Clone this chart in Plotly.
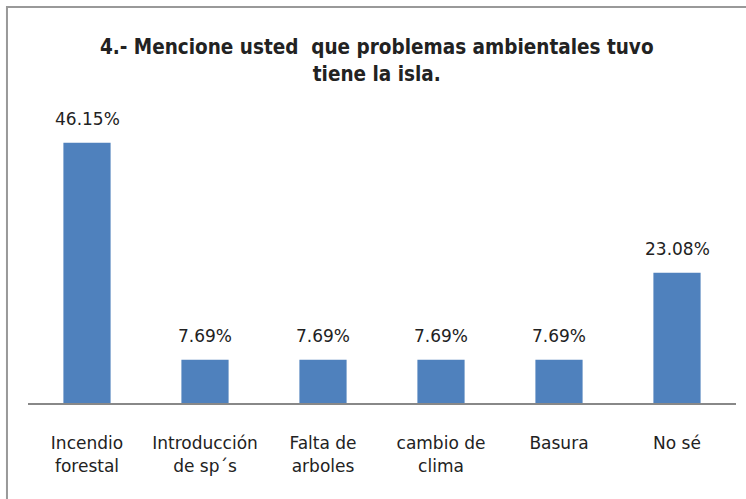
import plotly.graph_objects as go

categories = ["Incendio<br>forestal", "Introducción<br>de sp´s", "Falta de<br>arboles",
              "cambio de<br>clima", "Basura", "No sé"]
values = [46.15, 7.69, 7.69, 7.69, 7.69, 23.08]
labels = ["46.15%", "7.69%", "7.69%", "7.69%", "7.69%", "23.08%"]

fig = go.Figure()

fig.add_trace(go.Bar(
    x=categories,
    y=values,
    marker=dict(color="#4F81BD", line=dict(width=0)),
    width=0.4,
    hoverinfo="skip",
))

# value labels above each bar
for cat, val, lab in zip(categories, values, labels):
    fig.add_annotation(
        x=cat, y=val, text=lab, showarrow=False,
        yanchor="bottom", yshift=12,
        font=dict(family="DejaVu Sans", size=17, color="#222222"),
    )

fig.update_layout(
    title=dict(
        text="<b>4.- Mencione usted  que problemas ambientales tuvo<br>tiene la isla.</b>",
        x=0.505, xanchor="center", y=0.891, yanchor="top",
        font=dict(family="DejaVu Sans Condensed, DejaVu Sans", size=20.5, color="#222222"),
    ),
    width=746, height=499,
    margin=dict(l=28, r=10, t=112, b=96, autoexpand=False),
    paper_bgcolor="white",
    plot_bgcolor="white",
    showlegend=False,
    xaxis=dict(
        showline=True, linecolor="#888888", linewidth=2,
        ticks="", ticklabelstandoff=24, automargin=False,
        tickfont=dict(family="DejaVu Sans", size=17, color="#222222"),
    ),
    yaxis=dict(
        range=[0, 51.6], visible=False, showgrid=False, zeroline=False,
        automargin=False,
    ),
    shapes=[dict(
        type="rect", xref="paper", yref="paper",
        x0=-0.0297, x1=1.05, y0=-0.6, y1=1.361,
        line=dict(color="#999999", width=2), fillcolor="rgba(0,0,0,0)",
    )],
)

# drop the default page margin so the figure sits at the window's corner
fig.write_html("out.html", config={"displayModeBar": False},
               post_script="document.body.style.margin='0';")
